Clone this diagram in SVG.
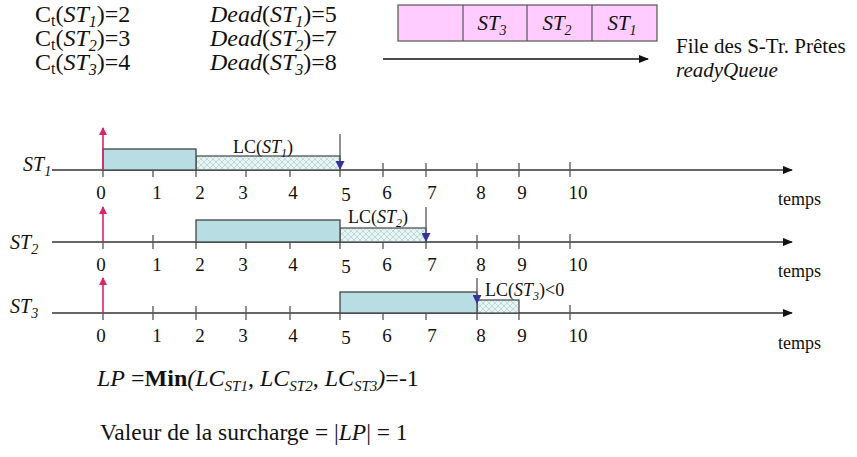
<svg xmlns="http://www.w3.org/2000/svg" width="857" height="457" viewBox="0 0 857 457">
<style>
text{font-family:"Liberation Serif","Times New Roman",serif;fill:#111}
.big{font-size:24px}
.q{font-size:21px}
.lc{font-size:18px}
.num{font-size:19px;text-anchor:middle}
.tm{font-size:18px}
.st{font-size:20px}
.it{font-style:italic}
.axis{stroke:#333;stroke-width:1.4;fill:none}
.tick{stroke:#555;stroke-width:1.3}
.exec{fill:#b8dde2;stroke:#444;stroke-width:1.3}
.slack{fill:url(#hatch);stroke:#444;stroke-width:1.2}
.rel{stroke:#d6246a;stroke-width:1.6}
.dl{stroke:#555;stroke-width:1.3}
</style>
<defs>
<pattern id="hatch" width="6" height="6" patternUnits="userSpaceOnUse">
<rect width="6" height="6" fill="#e6f4f4"/>
<path d="M0,0L6,6M6,0L0,6" stroke="#a9c6c6" stroke-width="0.6"/>
</pattern>
<marker id="ah" markerWidth="10" markerHeight="8" refX="9" refY="4" orient="auto" markerUnits="userSpaceOnUse">
<path d="M0,0L10,4L0,8z" fill="#111"/>
</marker>
<marker id="ar" markerWidth="8" markerHeight="9" refX="7" refY="4" orient="auto" markerUnits="userSpaceOnUse">
<path d="M0,0L8,4L0,8z" fill="#d6246a"/>
</marker>
<marker id="ab" markerWidth="9" markerHeight="9" refX="8" refY="4.5" orient="auto" markerUnits="userSpaceOnUse">
<path d="M0,0L9,4.5L0,9z" fill="#333399"/>
</marker>
</defs>

<g id="params">
<text class="big" x="35" y="22">C<tspan dy="4" font-size="16">t</tspan><tspan dy="-4">(</tspan><tspan class="it">ST</tspan><tspan class="it" font-size="16" dy="5">1</tspan><tspan dy="-5">)=2</tspan></text>
<text class="big" x="35" y="46">C<tspan dy="4" font-size="16">t</tspan><tspan dy="-4">(</tspan><tspan class="it">ST</tspan><tspan class="it" font-size="16" dy="5">2</tspan><tspan dy="-5">)=3</tspan></text>
<text class="big" x="35" y="70">C<tspan dy="4" font-size="16">t</tspan><tspan dy="-4">(</tspan><tspan class="it">ST</tspan><tspan class="it" font-size="16" dy="5">3</tspan><tspan dy="-5">)=4</tspan></text>
<text class="big" x="210" y="22"><tspan class="it">Dead</tspan>(<tspan class="it">ST</tspan><tspan class="it" font-size="16" dy="5">1</tspan><tspan dy="-5">)=5</tspan></text>
<text class="big" x="210" y="46"><tspan class="it">Dead</tspan>(<tspan class="it">ST</tspan><tspan class="it" font-size="16" dy="5">2</tspan><tspan dy="-5">)=7</tspan></text>
<text class="big" x="210" y="70"><tspan class="it">Dead</tspan>(<tspan class="it">ST</tspan><tspan class="it" font-size="16" dy="5">3</tspan><tspan dy="-5">)=8</tspan></text>
</g>

<g id="readyQueue">
<rect x="398" y="5" width="259" height="36" fill="#ffccff" stroke="#555" stroke-width="1.2"/>
<path d="M463,5V41M527,5V41M592,5V41" stroke="#555" stroke-width="1.2"/>
<text class="q it" x="492" y="30" text-anchor="middle">ST<tspan font-size="14" dy="5">3</tspan></text>
<text class="q it" x="557" y="30" text-anchor="middle">ST<tspan font-size="14" dy="5">2</tspan></text>
<text class="q it" x="622" y="30" text-anchor="middle">ST<tspan font-size="14" dy="5">1</tspan></text>
<text class="q" x="676" y="53">File des S-Tr. Prêtes</text>
<text class="q it" x="676" y="77">readyQueue</text>
</g>

<g id="connectors">
<line x1="383" y1="59" x2="648" y2="59" stroke="#111" stroke-width="1.3" marker-end="url(#ah)"/>
</g>

<g id="timeline1">
<line class="axis" x1="52" y1="170" x2="792" y2="170" marker-end="url(#ah)"/>
<path class="tick" d="M153,164V177M246,164V177M290,164V177M383,163V177M426,163V177M477,163V177M519,163V177M570,162V177M103,170V177M196,170V177M340,170V177"/>
<rect class="slack" x="196" y="156" width="144" height="14"/>
<rect class="exec" x="103" y="149" width="93" height="21"/>
<line class="rel" x1="103" y1="170" x2="103" y2="128" marker-end="url(#ar)"/>
<line class="dl" x1="340" y1="134" x2="340" y2="169" marker-end="url(#ab)"/>
<text class="st it" x="23" y="171">ST<tspan font-size="14" dy="5">1</tspan></text>
<text class="lc" x="233" y="153">LC(<tspan class="it">ST</tspan><tspan class="it" font-size="12" dy="4">1</tspan><tspan dy="-4">)</tspan></text>
<text class="num" x="101" y="199">0</text><text class="num" x="157" y="199">1</text><text class="num" x="200" y="199">2</text><text class="num" x="243" y="199">3</text><text class="num" x="293" y="199">4</text><text class="num" x="346" y="201">5</text><text class="num" x="387" y="199">6</text><text class="num" x="432" y="199">7</text><text class="num" x="481" y="199">8</text><text class="num" x="522" y="199">9</text><text class="num" x="578" y="199">10</text>
<text class="tm" x="778" y="205">temps</text>
</g>

<g id="timeline2">
<line class="axis" x1="52" y1="242" x2="792" y2="242" marker-end="url(#ah)"/>
<path class="tick" d="M153,235V249M246,235V249M290,235V249M383,235V249M477,235V249M519,235V249M570,234V249M103,242V249M196,242V249M340,242V249M426,242V249"/>
<rect class="slack" x="340" y="228" width="86" height="14"/>
<rect class="exec" x="196" y="220" width="144" height="22"/>
<line class="rel" x1="103" y1="242" x2="103" y2="207" marker-end="url(#ar)"/>
<line class="dl" x1="426" y1="207" x2="426" y2="241" marker-end="url(#ab)"/>
<text class="st it" x="10" y="249">ST<tspan font-size="14" dy="5">2</tspan></text>
<text class="lc" x="348" y="223">LC(<tspan class="it">ST</tspan><tspan class="it" font-size="12" dy="4">2</tspan><tspan dy="-4">)</tspan></text>
<text class="num" x="101" y="271">0</text><text class="num" x="157" y="271">1</text><text class="num" x="200" y="271">2</text><text class="num" x="243" y="271">3</text><text class="num" x="293" y="271">4</text><text class="num" x="346" y="273">5</text><text class="num" x="387" y="271">6</text><text class="num" x="432" y="271">7</text><text class="num" x="481" y="271">8</text><text class="num" x="522" y="271">9</text><text class="num" x="578" y="271">10</text>
<text class="tm" x="778" y="277">temps</text>
</g>

<g id="timeline3">
<line class="axis" x1="52" y1="313" x2="792" y2="313" marker-end="url(#ah)"/>
<path class="tick" d="M153,306V320M196,306V320M246,306V320M290,306V320M383,306V320M426,306V320M570,305V320M103,313V320M340,313V320M477,313V320M519,313V320"/>
<rect class="slack" x="477" y="300" width="42" height="13"/>
<rect class="exec" x="340" y="292" width="137" height="21"/>
<line class="rel" x1="103" y1="313" x2="103" y2="278" marker-end="url(#ar)"/>
<line class="dl" x1="477" y1="278" x2="477" y2="303" marker-end="url(#ab)"/>
<text class="st it" x="10" y="313">ST<tspan font-size="14" dy="5">3</tspan></text>
<text class="lc" x="485" y="296">LC(<tspan class="it">ST</tspan><tspan class="it" font-size="12" dy="4">3</tspan><tspan dy="-4">)&lt;0</tspan></text>
<text class="num" x="101" y="342">0</text><text class="num" x="157" y="342">1</text><text class="num" x="200" y="342">2</text><text class="num" x="243" y="342">3</text><text class="num" x="293" y="342">4</text><text class="num" x="346" y="344">5</text><text class="num" x="387" y="342">6</text><text class="num" x="432" y="342">7</text><text class="num" x="481" y="342">8</text><text class="num" x="522" y="342">9</text><text class="num" x="578" y="342">10</text>
<text class="tm" x="778" y="349">temps</text>
</g>

<g id="result">
<text class="big" x="97" y="386"><tspan class="it">LP</tspan> =<tspan font-weight="bold">Min</tspan><tspan class="it">(LC</tspan><tspan class="it" font-size="15" dy="5">ST1</tspan><tspan dy="-5">, </tspan><tspan class="it">LC</tspan><tspan class="it" font-size="15" dy="5">ST2</tspan><tspan dy="-5">, </tspan><tspan class="it">LC</tspan><tspan class="it" font-size="15" dy="5">ST3</tspan><tspan class="it" dy="-5">)</tspan>=-1</text>
<text x="100" y="440" font-size="23.5">Valeur de la surcharge = |<tspan class="it">LP</tspan>| = 1</text>
</g>
</svg>
